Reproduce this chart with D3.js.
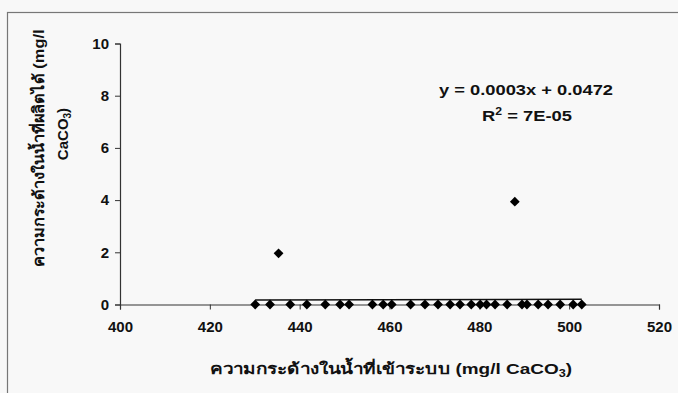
<!DOCTYPE html>
<html><head><meta charset="utf-8">
<script src="https://cdn.jsdelivr.net/npm/d3@7"></script>
<style>
html,body{margin:0;padding:0;background:#f8f8f8;}
svg{display:block;}
text{font-family:"Liberation Sans",Arial,sans-serif;font-weight:bold;fill:#111;}
</style></head>
<body>
<svg id="chart" width="678" height="393"></svg>
<script>
// inlet hardness (x) and product-water hardness (y), mg/l CaCO3
const xValues = [430.1, 433.4, 437.9, 441.6, 445.7, 449.0, 451.0, 456.2, 458.6, 460.5, 464.7, 467.9, 470.8, 473.5, 475.7, 478.2, 480.2, 481.6, 483.5, 486.2, 489.5, 490.6, 493.1, 495.3, 498.0, 500.9, 502.8, 435.3, 487.9];
const yValues = [0, 0, 0, 0, 0, 0, 0, 0, 0, 0, 0, 0, 0, 0, 0, 0, 0, 0, 0, 0, 0, 0, 0, 0, 0, 0, 0, 1.96, 3.94];
const xTicks = [400, 420, 440, 460, 480, 500, 520];
const yTicks = [0, 2, 4, 6, 8, 10];
const trendSlope = 0.0003, trendIntercept = 0.0472;
const equationLines = ["y = 0.0003x + 0.0472", "R2 = 7E-05"];

const svg = d3.select("#chart");
const x = d3.scaleLinear().domain([400, 520]).range([120, 659]);
const y = d3.scaleLinear().domain([0, 10]).range([304.5, 43.5]);

// frame
svg.append("rect").attr("x", 7.5).attr("y", 12.5).attr("width", 690).attr("height", 400)
  .attr("fill", "#f8f8f8").attr("stroke", "#777").attr("stroke-width", 1.2);

// axes
const yAxis = d3.axisLeft(y).tickValues(yTicks).tickSize(5).tickPadding(6);
const gy = svg.append("g").attr("transform", "translate(120,0)").call(yAxis);
const xAxis = d3.axisBottom(x).tickValues(xTicks).tickSize(5).tickPadding(12);
const gx = svg.append("g").attr("transform", "translate(0,304.5)").call(xAxis);
[gx, gy].forEach(g => {
  g.select(".domain").attr("stroke", "#333").attr("stroke-width", 1.2);
  g.selectAll(".tick line").attr("stroke", "#333").attr("stroke-width", 1);
  g.selectAll(".tick text").attr("font-family", "Liberation Sans, Arial, sans-serif")
    .attr("font-weight", "bold").attr("font-size", 15).attr("fill", "#111");
});

// trendline
const xExt = d3.extent(xValues);
svg.append("line")
  .attr("x1", x(xExt[0])).attr("x2", x(xExt[1]))
  .attr("y1", y(trendSlope * xExt[0] + trendIntercept))
  .attr("y2", y(trendSlope * xExt[1] + trendIntercept))
  .attr("stroke", "#111").attr("stroke-width", 1.5);

// points (diamonds)
const sym = d3.symbol().type(d3.symbolSquare).size(48);
svg.append("g").selectAll("path").data(xValues.map((v, i) => [v, yValues[i]]))
  .join("path")
  .attr("transform", d => `translate(${x(d[0])},${y(d[1])}) rotate(45)`)
  .attr("d", sym).attr("fill", "#000");

// equation
svg.append("text").attr("text-anchor", "middle").attr("font-size", 15)
  .attr("x", 526).attr("y", 95).attr("textLength", 174).attr("lengthAdjust", "spacingAndGlyphs")
  .text(equationLines[0]);
const r2 = svg.append("text").attr("text-anchor", "middle").attr("font-size", 15)
  .attr("x", 527).attr("y", 121).attr("textLength", 90).attr("lengthAdjust", "spacingAndGlyphs");
r2.append("tspan").text("R");
r2.append("tspan").attr("dy", -6).attr("font-size", 10).text("2");
r2.append("tspan").attr("dy", 6).text(" = 7E-05");

// x title
const xt = svg.append("text").attr("x", 391).attr("y", 374).attr("text-anchor", "middle").attr("font-size", 15)
  .attr("textLength", 362).attr("lengthAdjust", "spacingAndGlyphs");
xt.append("tspan").text("ความกระด้างในน้ำที่เข้าระบบ (mg/l CaCO");
xt.append("tspan").attr("dy", 3).attr("font-size", 10).text("3");
xt.append("tspan").attr("dy", -3).text(")");

// y title (two lines)
svg.append("text").attr("transform", "rotate(-90)").attr("text-anchor", "middle").attr("font-size", 15)
  .attr("x", -148).attr("y", 44).attr("textLength", 237).attr("lengthAdjust", "spacingAndGlyphs")
  .text("ความกระด้างในน้ำที่ผลิตได้ (mg/l");
const yt2 = svg.append("text").attr("transform", "rotate(-90)").attr("text-anchor", "middle").attr("font-size", 15)
  .attr("x", -134).attr("y", 68);
yt2.append("tspan").text("CaCO");
yt2.append("tspan").attr("dy", 3).attr("font-size", 10).text("3");
yt2.append("tspan").attr("dy", -3).text(")");
</script>
</body></html>
